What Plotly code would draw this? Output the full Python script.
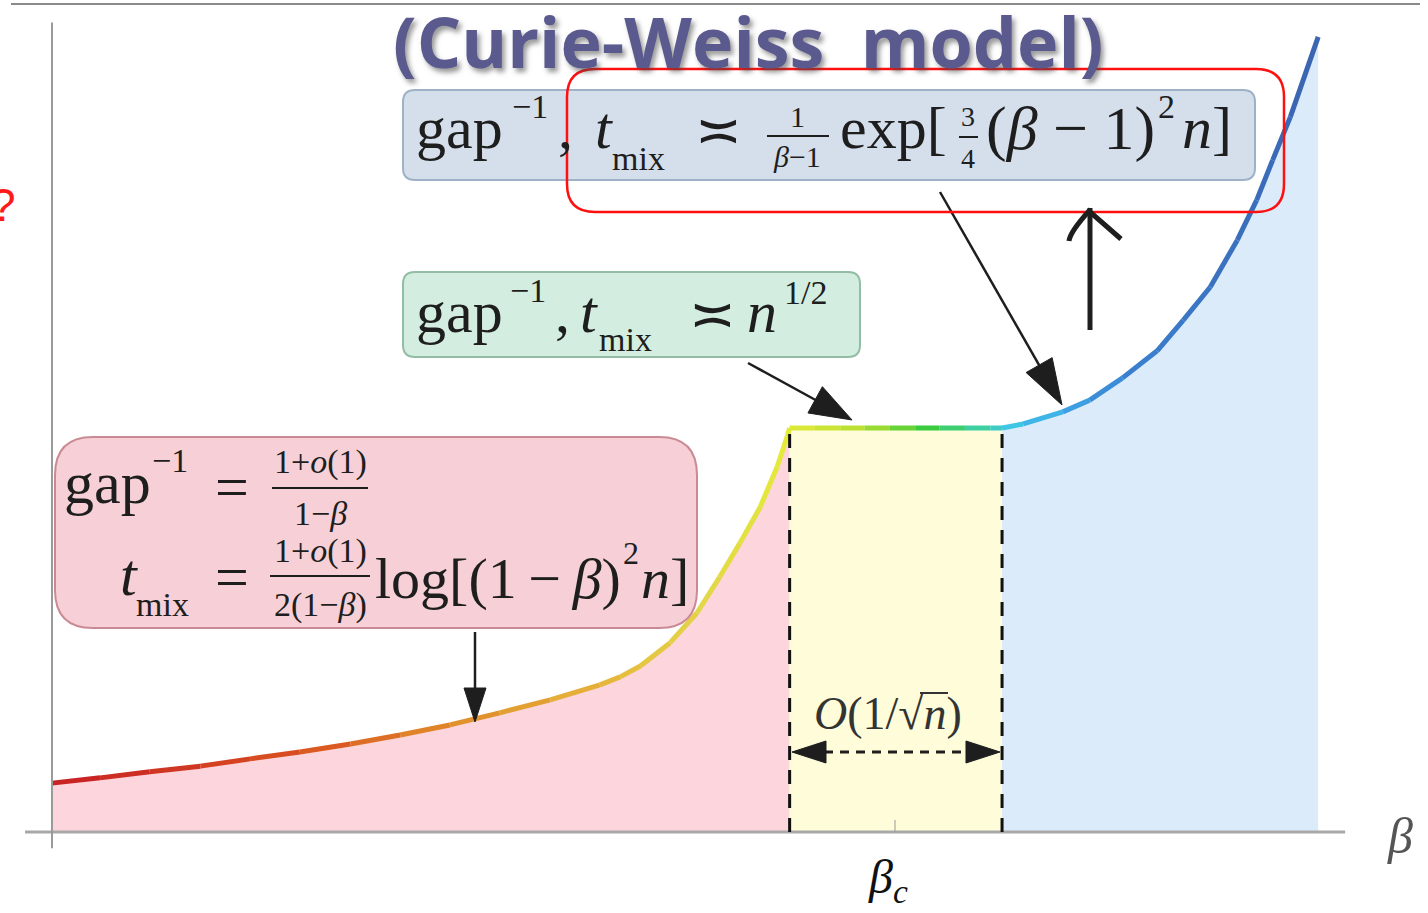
import numpy as np
import plotly.graph_objects as go
from plotly.colors import sample_colorscale

W, H = 1428, 913
SERIF = "Liberation Serif, DejaVu Serif, serif"
INK = "#1e1e1e"

# gap^-1 / t_mix against inverse temperature beta (schematic, arbitrary units)
beta = [0.000, 0.057, 0.116, 0.176, 0.235, 0.294, 0.354, 0.413, 0.472, 0.531,
        0.591, 0.650, 0.674, 0.698, 0.733, 0.765, 0.792, 0.816, 0.840, 0.860,
        0.872, 0.875,
        0.905, 0.935, 0.964, 0.994, 1.024, 1.053, 1.083, 1.113, 1.127,
        1.152, 1.199, 1.231, 1.270, 1.311, 1.342, 1.374, 1.406, 1.429, 1.448,
        1.469, 1.502]
rate = [0.121, 0.134, 0.149, 0.163, 0.181, 0.198, 0.218, 0.240, 0.265, 0.295,
        0.327, 0.364, 0.384, 0.411, 0.468, 0.542, 0.631, 0.715, 0.804, 0.903,
        0.978, 1.000,
        1.000, 1.000, 1.000, 1.000, 1.000, 1.000, 1.000, 1.000, 1.000,
        1.010, 1.040, 1.069, 1.124, 1.191, 1.267, 1.349, 1.465, 1.564, 1.663,
        1.770, 1.968]

# regime boundaries: high temperature | critical window | low temperature
BETA_LO, BETA_HI = 0.875, 1.127
BETA_C = 1.0

REGION_FILLS = ["#fcd6dc", "#fefcd9", "#dcebfa"]
CURVE_SCALE = [[0.00, "#c81e24"], [0.20, "#d9521f"], [0.31, "#e08a2a"],
               [0.43, "#e6b43a"], [0.51, "#e2d548"], [0.58, "#e4ea3a"],
               [0.64, "#b6e032"], [0.69, "#3acb3a"], [0.73, "#3ed0a0"],
               [0.76, "#3ec6e8"], [0.80, "#3ea6e6"], [0.85, "#3a80d0"],
               [1.00, "#3a64b0"]]

b = np.array(beta)
r = np.array(rate)

fig = go.Figure()

# shaded regimes under the curve
masks = [b <= BETA_LO, (b >= BETA_LO) & (b <= BETA_HI), b >= BETA_HI]
for m, col in zip(masks, REGION_FILLS):
    fig.add_trace(go.Scatter(x=b[m], y=r[m], mode="lines", fill="tozeroy",
                             fillcolor=col, line=dict(width=0),
                             hoverinfo="skip"))

# curve coloured along beta
bmax = b.max()
mids = [(b[i] + b[i + 1]) / 2 / bmax for i in range(len(b) - 1)]
seg_cols = sample_colorscale(CURVE_SCALE, mids)
for i, c in enumerate(seg_cols):
    fig.add_trace(go.Scatter(x=b[i:i + 2], y=r[i:i + 2], mode="lines",
                             line=dict(color=c, width=5), hoverinfo="skip"))


def fx(x):
    return x / W


def fy(y):
    return 1 - y / H


shapes = []
annotations = []


def line(x0, y0, x1, y1, color=INK, width=2, dash="solid"):
    shapes.append(dict(type="line", xref="paper", yref="paper",
                       x0=fx(x0), y0=fy(y0), x1=fx(x1), y1=fy(y1),
                       line=dict(color=color, width=width, dash=dash)))


def poly(pts, color=INK):
    d = "M " + " L ".join(f"{fx(x):.5f},{fy(y):.5f}" for x, y in pts) + " Z"
    shapes.append(dict(type="path", xref="paper", yref="paper", path=d,
                       fillcolor=color, line=dict(color=color, width=1)))


def arrow(x0, y0, x1, y1, head=40, half=14, width=2.5):
    v = np.array([x1 - x0, y1 - y0], float)
    u = v / np.linalg.norm(v)
    n = np.array([-u[1], u[0]])
    base = np.array([x1, y1]) - head * u
    line(x0, y0, base[0] + 2 * u[0], base[1] + 2 * u[1], width=width)
    poly([(x1, y1), tuple(base + half * n), tuple(base - half * n)])


def rrect(x0, y0, x1, y1, rad, fill, edge, width=2, opacity=1.0):
    rx, ry = rad / W, rad / H
    X0, X1, Y0, Y1 = fx(x0), fx(x1), fy(y0), fy(y1)
    d = (f"M {X0 + rx},{Y0} L {X1 - rx},{Y0} Q {X1},{Y0} {X1},{Y0 - ry} "
         f"L {X1},{Y1 + ry} Q {X1},{Y1} {X1 - rx},{Y1} L {X0 + rx},{Y1} "
         f"Q {X0},{Y1} {X0},{Y1 + ry} L {X0},{Y0 - ry} Q {X0},{Y0} {X0 + rx},{Y0} Z")
    shapes.append(dict(type="path", xref="paper", yref="paper", path=d,
                       fillcolor=fill if fill else "rgba(0,0,0,0)",
                       opacity=opacity, line=dict(color=edge, width=width)))


def label(x, y, text, size, anchor="left", color=INK, family=SERIF, **font):
    annotations.append(dict(x=fx(x), y=fy(y), xref="paper", yref="paper",
                            text=text, showarrow=False, xanchor=anchor,
                            yanchor="middle",
                            font=dict(size=size, color=color, family=family, **font)))


# frame line along the top
line(11, 4, 1420, 4, color="#8a8a8a", width=2)

# axes in data units
shapes.append(dict(type="line", xref="x", yref="y", x0=-0.032, x1=1.534,
                   y0=0, y1=0, line=dict(color="#a8a8a8", width=3)))
shapes.append(dict(type="line", xref="x", yref="y", x0=0, x1=0,
                   y0=-0.04, y1=2.004, line=dict(color="#9a9a9a", width=2)))
shapes.append(dict(type="line", xref="x", yref="y", x0=BETA_C, x1=BETA_C,
                   y0=0, y1=0.03, line=dict(color="#9a9a9a", width=1)))
for xb in (BETA_LO, BETA_HI):
    shapes.append(dict(type="line", xref="x", yref="y", x0=xb, x1=xb,
                       y0=0, y1=1.0,
                       line=dict(color="#111", width=3, dash="14px,10px")))

# critical window width marker
line(824, 752, 968, 752, width=3, dash="9px,7px")
poly([(792, 752), (826, 741), (826, 763)])
poly([(1000, 752), (966, 741), (966, 763)])
label(888, 713, "<i>O</i>(1/√<i>n</i>)", 46, anchor="center", color="#333")
line(920, 693, 948, 693, color="#333", width=2)

# formula boxes
rrect(55, 437, 697, 628, 38, "#f6cdd3", "#c7828e", width=2, opacity=0.93)
rrect(403, 272, 860, 357, 12, "#d3eee0", "#93bca4", width=2)
rrect(403, 90, 1255, 180, 12, "#d5deeb", "#9fb1c7", width=2)

# high temperature regime formulas
label(62, 483, "gap", 60)
label(150, 460, "−1", 34)
label(232, 487, "=", 60, anchor="center")
label(320, 462, "1+<i>o</i>(1)", 34, anchor="center")
line(272, 488, 368, 488, width=2)
label(320, 513, "1−<i>β</i>", 34, anchor="center")
label(118, 575, "<i>t</i>", 60)
label(134, 604, "mix", 34)
label(232, 577, "=", 60, anchor="center")
label(320, 551, "1+<i>o</i>(1)", 34, anchor="center")
line(270, 576, 370, 576, width=2)
label(320, 605, "2(1−<i>β</i>)", 34, anchor="center")
label(373, 578, "log[(1&#8201;−&#8201;<i>β</i>)", 58)
label(621, 553, "2", 32)
label(639, 578, "<i>n</i>]", 58)

# critical window formula
label(414, 312, "gap", 60)
label(508, 290, "−1", 34)
label(553, 312, ",", 60)
label(578, 312, "<i>t</i>", 60)
label(597, 340, "mix", 34)
label(712, 314, "≍", 56, anchor="center")
label(745, 312, "<i>n</i>", 60)
label(782, 292, "1/2", 34)

# low temperature formula
label(414, 128, "gap", 60)
label(510, 106, "−1", 34)
label(556, 128, ",", 60)
label(593, 128, "<i>t</i>", 60)
label(610, 158, "mix", 34)
label(718, 130, "≍", 56, anchor="center")
label(797, 117, "1", 30, anchor="center")
line(767, 136, 829, 136, width=2)
label(797, 157, "<i>β</i>−1", 30, anchor="center")
label(838, 128, "exp[", 60)
label(968, 117, "3", 28, anchor="center")
line(959, 137, 978, 137, width=2)
label(968, 158, "4", 28, anchor="center")
label(984, 128, "(<i>β</i> − 1)", 62)
label(1156, 106, "2", 34)
label(1180, 128, "<i>n</i>]", 60)

# pointers from formulas to the curve
arrow(475, 632, 475, 722, head=34, half=11)
arrow(748, 363, 852, 420, head=42, half=15)
arrow(940, 192, 1062, 405, head=46, half=15)

# emphasis: red outline and hand drawn arrow
rrect(567, 69, 1284, 212, 28, None, "#ff1010", width=2.5)
line(1090, 330, 1090, 208, width=5)
shapes.append(dict(type="path", xref="paper", yref="paper",
                   path=(f"M {fx(1069)},{fy(241)} Q {fx(1070)},{fy(232)} "
                         f"{fx(1089)},{fy(211)} L {fx(1121)},{fy(239)}"),
                   line=dict(color=INK, width=5)))
label(3, 205, "?", 46, anchor="center", color="#ff1a1a",
      family="Liberation Sans, Arial, sans-serif")

# title and axis labels
label(748, 41, "(Curie-Weiss&nbsp; model)", 70, anchor="center",
      color="#5b5a8e", family="Open Sans, sans-serif", weight="bold",
      shadow="3px 4px 5px rgba(70,70,70,0.55)")
label(1400, 836, "<i>β</i>", 50, anchor="center", color="#555")
label(888, 880, "<i>β</i><sub><i>c</i></sub>", 48, anchor="center", color="#111")

fig.update_layout(
    width=W, height=H,
    margin=dict(l=0, r=0, t=0, b=0),
    paper_bgcolor="white", plot_bgcolor="white",
    showlegend=False,
    xaxis=dict(visible=False, range=[-52 / 843, 1376 / 843], fixedrange=True),
    yaxis=dict(visible=False, range=[-81 / 404, 832 / 404], fixedrange=True),
    shapes=shapes,
    annotations=annotations,
)

fig.write_html("out.html")
